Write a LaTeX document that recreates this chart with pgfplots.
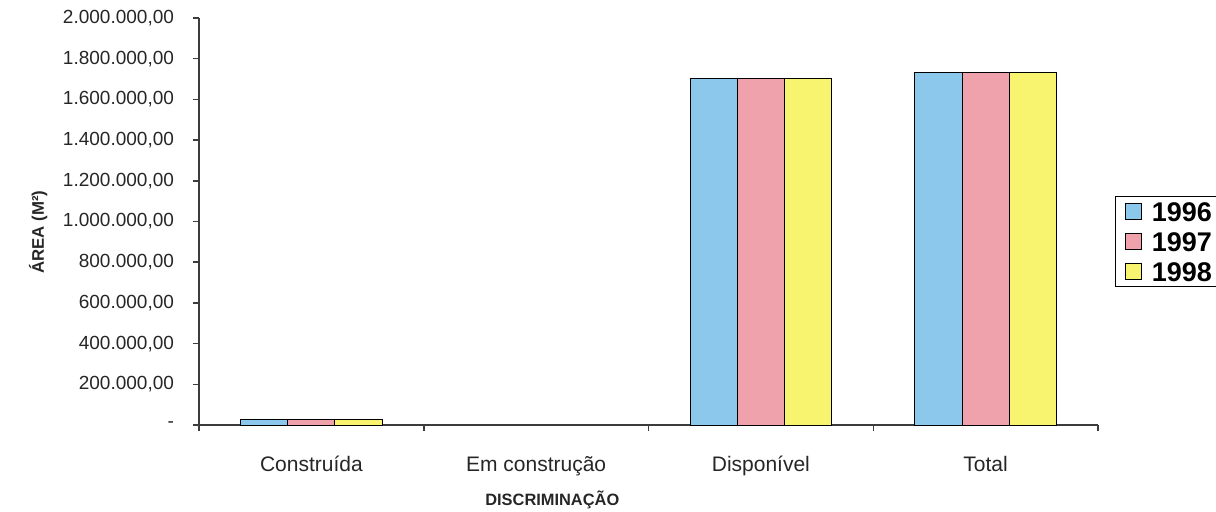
\documentclass[border=0pt]{standalone}
\usepackage{pgfplots}
\pgfplotsset{compat=1.18}
\usepackage{fontspec}
\setmainfont{Liberation Sans}
\definecolor{c96}{RGB}{140,200,235}
\definecolor{c97}{RGB}{240,162,172}
\definecolor{c98}{RGB}{248,244,112}
\definecolor{axcol}{RGB}{60,60,60}
\begin{document}
\begin{tikzpicture}
\begin{axis}[
  scale only axis,
  width=449.5pt, height=203.5pt,
  xmin=-0.5, xmax=3.5,
  ymin=0, ymax=2000000,
  axis lines=left,
  axis line style={-, axcol, line width=0.75pt},
  tick style={axcol, line width=0.75pt},
  tick align=outside,
  major tick length=3pt,
  xtick={-0.5,0.5,1.5,2.5,3.5},
  x tick label as interval,
  xticklabels={Construída,Em construção,Disponível,Total},
  xticklabel style={font=\fontsize{10.5}{12}\selectfont, yshift=-9pt, text=black!85},
  ytick={0,200000,400000,600000,800000,1000000,1200000,1400000,1600000,1800000,2000000},
  yticklabels={-,{200.000,00},{400.000,00},{600.000,00},{800.000,00},{1.000.000,00},{1.200.000,00},{1.400.000,00},{1.600.000,00},{1.800.000,00},{2.000.000,00}},
  yticklabel style={font=\fontsize{9.5}{11}\selectfont, xshift=-6pt, text=black!85},
  scaled y ticks=false,
  xlabel={DISCRIMINAÇÃO},
  xlabel style={at={(axis description cs:0.393,-0.184)}, anchor=center, font=\bfseries\fontsize{8.2}{10}\selectfont, text=black!85},
  ylabel={ÁREA (M²)},
  ylabel style={at={(axis description cs:-0.179,0.474)}, anchor=center, font=\bfseries\fontsize{8.4}{10}\selectfont, text=black!85},
  ybar=0pt,
  bar width=0.21,
  legend style={at={(axis description cs:1.019,0.563)}, anchor=north west,
    draw=black, line width=0.6pt, inner xsep=4.5pt, inner ysep=1.5pt,
    font=\bfseries\fontsize{13.5}{16}\selectfont, row sep=3pt,
    nodes={inner sep=1pt, text height=10pt, text depth=0pt},
    /tikz/every odd column/.append style={column sep=4pt}},
  legend cell align=left,
  legend image code/.code={\draw[#1, draw=black, line width=0.6pt] (0pt,-4pt) rectangle (8pt,4pt);},
]
\addplot[fill=c96, draw=black, line width=0.5pt] coordinates {(0,25000) (2,1705000) (3,1730000)};
\addplot[fill=c97, draw=black, line width=0.5pt] coordinates {(0,25000) (2,1705000) (3,1730000)};
\addplot[fill=c98, draw=black, line width=0.5pt] coordinates {(0,25000) (2,1705000) (3,1730000)};
\legend{1996,1997,1998}
\end{axis}
\pgfresetboundingbox
\useasboundingbox (-99.5pt,-43pt) rectangle (508.5pt,212.5pt);
\end{tikzpicture}
\end{document}
